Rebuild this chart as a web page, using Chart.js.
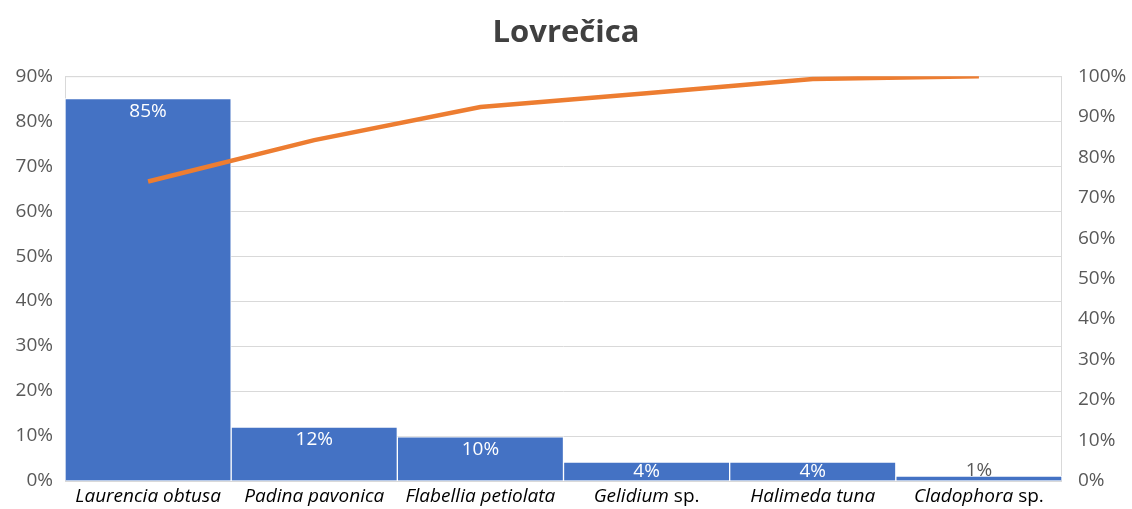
<!DOCTYPE html>
<html>
<head>
<meta charset="utf-8">
<script src="https://cdn.jsdelivr.net/npm/chart.js@4/dist/chart.umd.min.js"></script>
<style>
    html, body { margin: 0; padding: 0; background: #ffffff; }
    #wrap { width: 1132px; height: 509px; }
</style>
</head>
<body>
<div id="wrap"><canvas id="paretoChart"></canvas></div>
<script>
// Podaci sa slike
const categories = ['Laurencia obtusa', 'Padina pavonica', 'Flabellia petiolata', 'Gelidium sp.', 'Halimeda tuna', 'Cladophora sp.'];
const shareValues = [85, 12, 9.8, 4.2, 4.2, 1.1];
const shareLabels = ['85%', '12%', '10%', '4%', '4%', '1%'];
const cumulativeValues = [74, 84.2, 92.4, 95.8, 99.3, 100];

const FONT = '"Open Sans", sans-serif';

// Oznake ispod stupaca: rod kurzivom, "sp." normalno
const xLabelPlugin = {
    id: 'xLabels',
    afterDraw(chart) {
        const ctx = chart.ctx;
        const x = chart.scales.x;
        ctx.save();
        ctx.fillStyle = '#000000';
        ctx.textBaseline = 'middle';
        categories.forEach((name, i) => {
            let italicPart = name;
            let plainPart = '';
            if (name.endsWith(' sp.')) {
                italicPart = name.slice(0, -4);
                plainPart = ' sp.';
            }
            const italicFont = 'italic 19px ' + FONT;
            const plainFont = '19px ' + FONT;
            ctx.font = italicFont;
            const w1 = ctx.measureText(italicPart).width;
            ctx.font = plainFont;
            const w2 = ctx.measureText(plainPart).width;
            const cx = x.getPixelForValue(i);
            const start = cx - (w1 + w2) / 2;
            ctx.textAlign = 'left';
            ctx.font = italicFont;
            ctx.fillText(italicPart, start, 497);
            ctx.font = plainFont;
            ctx.fillText(plainPart, start + w1, 497);
        });
        ctx.restore();
    }
};

// Postoci unutar stupaca
const barLabelPlugin = {
    id: 'barLabels',
    afterDatasetsDraw(chart) {
        const ctx = chart.ctx;
        const meta = chart.getDatasetMeta(1);
        ctx.save();
        ctx.font = '19px ' + FONT;
        ctx.textAlign = 'center';
        ctx.textBaseline = 'middle';
        meta.data.forEach((bar, i) => {
            const h = bar.base - bar.y;
            if (h < 10) {
                ctx.fillStyle = '#595959';
                ctx.fillText(shareLabels[i], bar.x, bar.y - 5);
            } else {
                ctx.fillStyle = '#ffffff';
                ctx.fillText(shareLabels[i], bar.x, Math.min(bar.y + 13, (bar.y + bar.base) / 2));
            }
        });
        ctx.restore();
    }
};

// Okvir podrucja grafa
const framePlugin = {
    id: 'frame',
    beforeDatasetsDraw(chart) {
        const a = chart.chartArea;
        const ctx = chart.ctx;
        ctx.save();
        ctx.strokeStyle = '#d9d9d9';
        ctx.lineWidth = 1;
        ctx.strokeRect(a.left + 0.5, a.top + 0.5, a.right - a.left - 1, a.bottom - a.top);
        ctx.restore();
    }
};

new Chart(document.getElementById('paretoChart'), {
    data: {
        labels: categories,
        datasets: [{
            type: 'line',
            data: cumulativeValues,
            yAxisID: 'y2',
            borderColor: '#ed7d31',
            borderWidth: 4.5,
            pointRadius: 0,
            tension: 0,
            order: 0
        }, {
            type: 'bar',
            data: shareValues,
            yAxisID: 'y',
            backgroundColor: '#4472c4',
            borderColor: '#ffffff',
            borderWidth: 1,
            barPercentage: 1,
            categoryPercentage: 1,
            order: 1
        }]
    },
    options: {
        responsive: true,
        maintainAspectRatio: false,
        animation: false,
        layout: { padding: 0 },
        plugins: {
            legend: { display: false },
            tooltip: { enabled: false },
            title: {
                display: true,
                text: 'Lovrečica',
                color: '#404040',
                font: { family: FONT, size: 31, weight: 'bold' },
                padding: { top: 15, bottom: 24 }
            }
        },
        scales: {
            x: {
                grid: { display: false },
                border: { display: false },
                ticks: { callback: () => '' },
                afterFit(scale) { scale.height = 28; }
            },
            y: {
                position: 'left',
                min: 0,
                max: 90,
                ticks: {
                    stepSize: 10,
                    color: '#595959',
                    padding: 12,
                    font: { family: FONT, size: 19 },
                    callback: v => v + '%'
                },
                grid: { color: '#d9d9d9', drawTicks: false },
                border: { display: false },
                afterFit(scale) { scale.width = 65; }
            },
            y2: {
                position: 'right',
                min: 0,
                max: 100,
                ticks: {
                    stepSize: 10,
                    color: '#595959',
                    padding: 8,
                    font: { family: FONT, size: 19 },
                    callback: v => v + '%'
                },
                grid: { display: false },
                border: { display: false },
                afterFit(scale) { scale.width = 70; }
            }
        }
    },
    plugins: [framePlugin, barLabelPlugin, xLabelPlugin]
});
</script>
</body>
</html>
